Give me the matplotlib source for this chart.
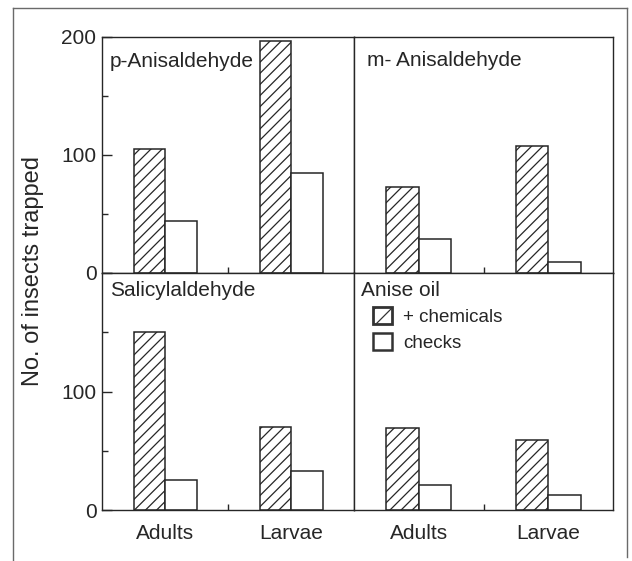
import matplotlib
matplotlib.use("Agg")
import matplotlib.pyplot as plt
from matplotlib.patches import Patch
from matplotlib.lines import Line2D

plt.rcParams['font.family'] = ['Liberation Sans', 'DejaVu Sans']
plt.rcParams['hatch.linewidth'] = 0.9
plt.rcParams['hatch.color'] = '#2a2a2a'

# ---- data ----
panel_titles = ["p-Anisaldehyde", "m- Anisaldehyde", "Salicylaldehyde", "Anise oil"]
groups = ["Adults", "Larvae"]
chemicals = [[105, 197], [73, 108], [150, 70], [69, 59]]
checks = [[44, 85], [29, 9], [25, 33], [21, 13]]
yticks_major = [0, 100, 200]
legend_labels = ["+ chemicals", "checks"]
ylabel = "No. of insects trapped"

W, H = 632, 561
fig = plt.figure(figsize=(W / 100, H / 100), dpi=100)

ink = '#262626'

def px_rect(x0, x1, ytop, ybot):
    return [x0 / W, 1 - ybot / H, (x1 - x0) / W, (ybot - ytop) / H]

rects = [px_rect(102, 354, 37, 273), px_rect(354, 613, 37, 273),
         px_rect(102, 354, 273, 510), px_rect(354, 613, 273, 510)]

title_pos = [(0.032, 0.895), (0.05, 0.90), (0.032, 0.928), (0.027, 0.928)]

group_pos = [1, 3]
bw = 0.5
axes = []
for i, r in enumerate(rects):
    ax = fig.add_axes(r)
    axes.append(ax)
    ax.bar([g - bw / 2 for g in group_pos], chemicals[i], width=bw,
           facecolor='white', edgecolor=ink, linewidth=1.1, hatch='///')
    ax.bar([g + bw / 2 for g in group_pos], checks[i], width=bw,
           facecolor='white', edgecolor=ink, linewidth=1.1)
    ax.set_xlim(0, 4)
    ax.set_ylim(0, 200)
    for s in ax.spines.values():
        s.set_color(ink)
        s.set_linewidth(1.0)
    ax.text(title_pos[i][0], title_pos[i][1], panel_titles[i], transform=ax.transAxes,
            ha='left', va='center', fontsize=15, color=ink)
    # x ticks: boundary tick at 2, group labels at 1 and 3
    ax.set_xticks([2])
    ax.set_xticklabels([])
    ax.tick_params(axis='x', which='major', direction='in', length=4, width=1, color=ink)
    if i >= 2:
        ax.set_xticks(group_pos, minor=True)
        ax.set_xticklabels(groups, minor=True, fontsize=15, color=ink)
        ax.tick_params(axis='x', which='minor', length=0, pad=10)
    else:
        ax.set_xticks([], minor=True)
    # y ticks
    if i % 2 == 0:
        ax.set_yticks(yticks_major)
        labs = [str(v) for v in yticks_major]
        if i == 2:
            labs[-1] = ''
        ax.set_yticklabels(labs, fontsize=15, color=ink)
        ax.set_yticks([50, 150], minor=True)
        ax.tick_params(axis='y', which='major', direction='in', length=7, width=1,
                       color=ink, pad=4)
        ax.tick_params(axis='y', which='minor', direction='in', length=4, width=1,
                       color=ink)
    else:
        ax.set_yticks([])

# legend in the anise oil panel
h1 = Patch(facecolor='white', edgecolor='#333333', hatch='//', linewidth=2.0)
h2 = Patch(facecolor='white', edgecolor='#333333', linewidth=1.8)
axes[3].legend([h1, h2], legend_labels, loc='upper left', bbox_to_anchor=(0.075, 0.855),
               frameon=False, fontsize=13.5, handlelength=1.0, handleheight=1.0,
               handletextpad=0.6, labelspacing=0.35, borderpad=0, borderaxespad=0,
               labelcolor=ink)

fig.text(33 / W, 1 - 271 / H, ylabel, rotation=90, ha='center', va='center',
         fontsize=17, color=ink)

# outer frame (open at bottom)
fc = '#6a6a6a'
fig.add_artist(Line2D([13 / W, 13 / W], [0, 1 - 8 / H], color=fc, lw=1.0, transform=fig.transFigure))
fig.add_artist(Line2D([13 / W, 627 / W], [1 - 8 / H, 1 - 8 / H], color=fc, lw=1.0, transform=fig.transFigure))
fig.add_artist(Line2D([627 / W, 627 / W], [1 - 8 / H, 1 - 557 / H], color=fc, lw=1.0, transform=fig.transFigure))

fig.savefig("out.png", dpi=100, facecolor='white')
